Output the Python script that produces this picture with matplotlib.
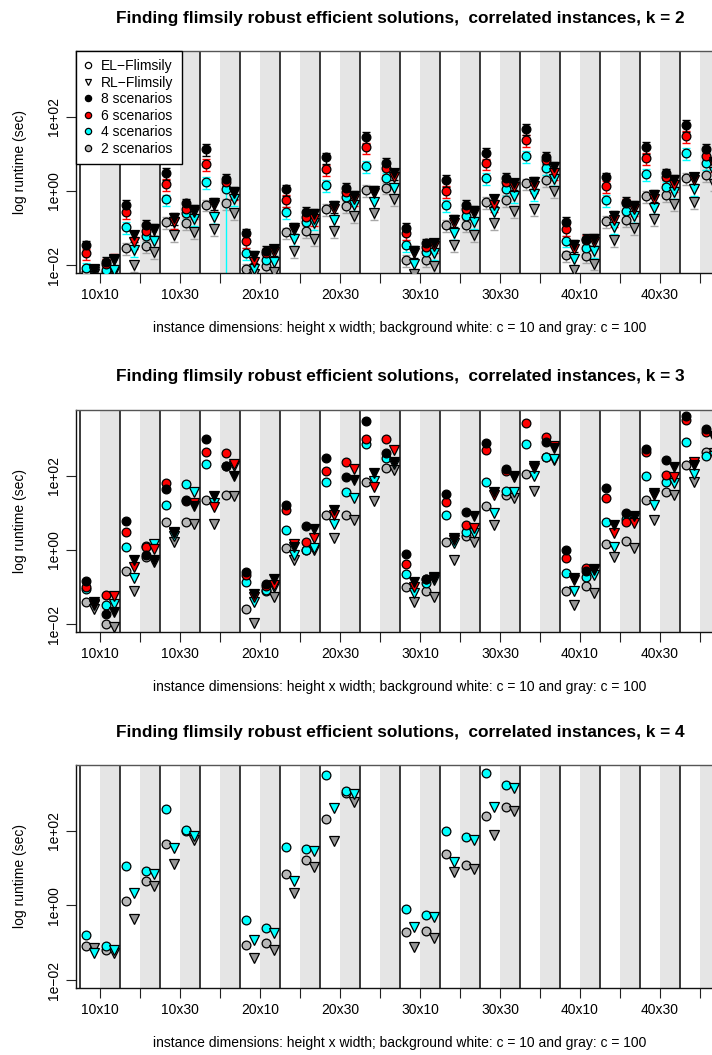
import numpy as np
import matplotlib
matplotlib.use("Agg")
import matplotlib.pyplot as plt
from matplotlib.lines import Line2D

plt.rcParams['font.family'] = ['Liberation Sans', 'DejaVu Sans']

nan = np.nan

# ---------------- categories / labels ----------------
blocks = ["10x10", "10x20", "10x30", "10x40", "20x10", "20x20", "20x30", "20x40",
          "30x10", "30x20", "30x30", "30x40", "40x10", "40x20", "40x30", "40x40"]
shown_labels = ["10x10", "10x30", "20x10", "20x30", "30x10", "30x30", "40x10", "40x30"]
ytick_values = [1e-2, 1e0, 1e2]
ytick_labels = ["1e\u221202", "1e+00", "1e+02"]
scenarios = [8, 6, 4, 2]
titles = ["Finding flimsily robust efficient solutions,  correlated instances, k = 2",
          "Finding flimsily robust efficient solutions,  correlated instances, k = 3",
          "Finding flimsily robust efficient solutions,  correlated instances, k = 4"]
xlabel_text = "instance dimensions: height x width; background white: c = 10 and gray: c = 100"
ylabel_text = "log runtime (sec)"

# ---------------- data: log10 runtime (sec) ----------------
# k = 2
k2_s8_el10 = [-1.47, -0.37, 0.49, 1.12, -1.15, 0.04, 0.90, 1.46, -1.00, 0.29, 1.03, 1.68, -0.84, 0.36, 1.19, 1.77]
k2_s8_rl10 = [-2.12, -1.20, -0.73, -0.32, -1.76, -0.99, -0.40, -0.01, -1.63, -0.79, -0.23, 0.24, -1.45, -0.67, -0.12, 0.36]
k2_s8_el100 = [-1.92, -0.93, -0.34, 0.33, -1.63, -0.57, 0.08, 0.76, -1.42, -0.39, 0.35, 0.92, -1.30, -0.30, 0.47, 1.12]
k2_s8_rl100 = [-1.87, -1.02, -0.52, -0.03, -1.58, -0.63, -0.14, 0.47, -1.42, -0.55, 0.20, 0.65, -1.29, -0.41, 0.29, 0.78]
k2_s6_el10 = [-1.69, -0.57, 0.18, 0.72, -1.36, -0.25, 0.58, 1.17, -1.15, 0.00, 0.74, 1.37, -1.04, 0.13, 0.88, 1.48]
k2_s6_rl10 = [-2.14, -1.38, -0.84, -0.39, -1.92, -1.06, -0.50, -0.07, -1.69, -0.88, -0.39, 0.13, -1.58, -0.79, -0.21, 0.29]
k2_s6_el100 = [-1.96, -1.08, -0.48, 0.24, -1.69, -0.70, -0.03, 0.62, -1.51, -0.50, 0.24, 0.83, -1.33, -0.34, 0.38, 0.94]
k2_s6_rl100 = [-1.83, -1.06, -0.57, -0.05, -1.65, -0.77, -0.21, 0.38, -1.49, -0.59, 0.11, 0.49, -1.38, -0.48, 0.15, 0.69]
k2_s4_el10 = [-2.08, -0.97, -0.23, 0.24, -1.67, -0.57, 0.15, 0.67, -1.47, -0.38, 0.35, 0.94, -1.34, -0.24, 0.45, 1.03]
k2_s4_rl10 = [-2.19, -1.60, -0.84, -0.70, -2.12, -1.30, -0.79, -0.31, -1.96, -1.13, -0.57, -0.09, -1.83, -0.97, -0.45, 0.04]
k2_s4_el100 = [-2.14, -1.22, -0.61, 0.04, -1.87, -0.84, -0.16, 0.35, -1.66, -0.67, 0.06, 0.62, -1.55, -0.55, 0.11, 0.74]
k2_s4_rl100 = [-2.14, -1.36, -0.77, -0.22, -1.92, -0.86, -0.38, 0.08, -1.69, -0.84, -0.14, 0.33, -1.62, -0.67, -0.03, 0.51]
k2_s2_el10 = [-2.19, -1.54, -0.84, -0.37, -2.10, -1.12, -0.48, 0.02, -1.87, -0.91, -0.30, 0.20, -1.74, -0.81, -0.13, 0.35]
k2_s2_rl10 = [-2.23, -2.01, -1.18, -1.03, -2.23, -1.63, -1.09, -0.61, -2.23, -1.45, -0.88, -0.49, -2.14, -1.33, -0.76, -0.31]
k2_s2_el100 = [-2.19, -1.49, -0.86, -0.34, -2.03, -1.08, -0.41, 0.09, -1.87, -0.93, -0.25, 0.29, -1.75, -0.79, -0.12, 0.42]
k2_s2_rl100 = [-2.19, -1.66, -1.11, -0.61, -2.19, -1.30, -0.67, -0.21, -2.03, -1.18, -0.54, -0.01, -1.96, -1.00, -0.36, 0.18]
# relative standard deviation of the k = 2 runtimes (error bars)
k2_rel_sd = 0.35
k2_rel_sd_s4_el100 = [0.35, 0.35, 0.35, 1.10, 0.35, 0.35, 0.35, 0.35, 0.35, 0.35, 0.35, 0.35, 0.35, 0.35, 0.35, 0.35]

# k = 3
k3_s8_el10 = [-0.83, 0.79, 1.64, 2.99, -0.60, 1.21, 2.47, 3.48, -0.12, 1.51, 2.88, nan, 0.00, 1.66, 2.72, 3.62]
k3_s8_rl10 = [-1.42, -0.27, 0.45, 1.44, -1.20, 0.09, 1.08, 2.07, -0.87, 0.33, 1.57, 2.25, -0.76, 0.66, 1.53, 2.29]
k3_s8_el100 = [-1.74, -0.15, 1.35, 2.27, -0.93, 0.63, 1.96, 2.61, -0.79, 1.01, 2.18, 2.92, -0.57, 0.99, 2.43, 3.26]
k3_s8_rl100 = [-1.69, -0.27, 1.19, 2.00, -0.78, 0.57, 1.89, 2.38, -0.72, 0.90, 1.96, 2.74, -0.51, 0.90, 2.23, 3.06]
k3_s6_el10 = [-0.99, 0.49, 1.80, 2.63, -0.67, 1.08, 2.14, 2.99, -0.38, 1.29, 2.68, 3.42, -0.21, 1.39, 2.65, 3.49]
k3_s6_rl10 = [-1.46, -0.45, 0.48, 1.15, -1.26, 0.15, 0.93, 1.69, -0.99, 0.27, 1.48, 2.20, -0.81, 0.45, 1.48, 2.36]
k3_s6_el100 = [-1.23, 0.09, 1.33, 2.61, -0.97, 0.22, 2.37, 2.99, -0.79, 0.67, 2.14, 3.04, -0.49, 0.75, 2.02, 3.19]
k3_s6_rl100 = [-1.24, 0.02, 1.26, 2.31, -0.94, 0.33, 2.18, 2.68, -0.76, 0.58, 2.00, 2.81, -0.54, 0.72, 1.96, 3.01]
k3_s4_el10 = [-1.06, 0.09, 1.20, 2.32, -0.87, 0.54, 1.84, 2.85, -0.65, 0.94, 1.84, 2.85, -0.63, 0.74, 2.00, 2.92]
k3_s4_rl10 = [-1.48, -0.75, 0.36, 1.26, -1.41, -0.13, 0.69, 1.86, -1.17, 0.18, 0.99, 2.00, -1.12, 0.09, 1.21, 2.05]
k3_s4_el100 = [-1.48, 0.11, 1.78, 2.25, -1.08, 0.00, 1.55, 2.47, -0.90, 0.48, 1.60, 2.50, -0.74, 0.84, 1.82, 2.54]
k3_s4_rl100 = [-1.47, 0.16, 1.57, 2.27, -1.01, 0.04, 1.39, 2.31, -0.81, 0.45, 1.55, 2.45, -0.67, 0.85, 1.80, 2.52]
k3_s2_el10 = [-1.41, -0.58, 0.74, 1.35, -1.60, 0.06, 0.94, 1.82, -1.00, 0.22, 1.17, 2.04, -1.10, 0.16, 1.35, 2.29]
k3_s2_rl10 = [-1.60, -1.10, 0.20, 0.70, -1.98, -0.27, 0.31, 1.33, -1.42, -0.27, 0.67, 1.60, -1.48, -0.18, 0.81, 1.84]
k3_s2_el100 = [-2.01, -0.20, 0.75, 1.48, -1.12, 0.00, 0.93, 2.20, -1.12, 0.36, 1.48, 2.50, -0.97, 0.24, 1.57, 2.65]
k3_s2_rl100 = [-2.09, -0.34, 0.70, 1.46, -1.26, 0.00, 0.81, 2.16, -1.26, 0.22, 1.39, 2.43, -1.17, 0.06, 1.48, 2.61]

# k = 4 (only 4 and 2 scenarios)
k4_s4_el10 = [-0.79, 1.05, 2.58, nan, -0.38, 1.57, 3.50, nan, -0.09, 2.00, 3.55, nan, nan, nan, nan, nan]
k4_s4_rl10 = [-1.28, 0.33, 1.53, nan, -0.92, 0.66, 2.61, nan, -0.58, 1.17, 2.65, nan, nan, nan, nan, nan]
k4_s4_el100 = [-1.10, 0.93, 2.02, nan, -0.61, 1.51, 3.08, nan, -0.25, 1.84, 3.23, nan, nan, nan, nan, nan]
k4_s4_rl100 = [-1.19, 0.84, 1.86, nan, -0.74, 1.46, 2.98, nan, -0.31, 1.75, 3.16, nan, nan, nan, nan, nan]
k4_s2_el10 = [-1.08, 0.13, 1.64, nan, -1.05, 0.84, 2.32, nan, -0.70, 1.37, 2.41, nan, nan, nan, nan, nan]
k4_s2_rl10 = [-1.14, -0.36, 1.12, nan, -1.42, 0.34, 1.73, nan, -1.12, 0.90, 1.89, nan, nan, nan, nan, nan]
k4_s2_el100 = [-1.19, 0.67, 2.00, nan, -1.01, 1.23, 3.03, nan, -0.69, 1.10, 2.65, nan, nan, nan, nan, nan]
k4_s2_rl100 = [-1.28, 0.52, 1.77, nan, -1.19, 1.03, 2.79, nan, -0.88, 0.99, 2.53, nan, nan, nan, nan, nan]

# ---------------- assemble ----------------
panel_data = {
    2: {8: (k2_s8_el10, k2_s8_rl10, k2_s8_el100, k2_s8_rl100),
        6: (k2_s6_el10, k2_s6_rl10, k2_s6_el100, k2_s6_rl100),
        4: (k2_s4_el10, k2_s4_rl10, k2_s4_el100, k2_s4_rl100),
        2: (k2_s2_el10, k2_s2_rl10, k2_s2_el100, k2_s2_rl100)},
    3: {8: (k3_s8_el10, k3_s8_rl10, k3_s8_el100, k3_s8_rl100),
        6: (k3_s6_el10, k3_s6_rl10, k3_s6_el100, k3_s6_rl100),
        4: (k3_s4_el10, k3_s4_rl10, k3_s4_el100, k3_s4_rl100),
        2: (k3_s2_el10, k3_s2_rl10, k3_s2_el100, k3_s2_rl100)},
    4: {4: (k4_s4_el10, k4_s4_rl10, k4_s4_el100, k4_s4_rl100),
        2: (k4_s2_el10, k4_s2_rl10, k4_s2_el100, k4_s2_rl100)},
}

fill_circle = {8: 'black', 6: '#FF0000', 4: '#00FFFF', 2: '#B8B8B8'}
fill_tri = {8: 'black', 6: '#FF0000', 4: '#00FFFF', 2: '#969696'}
err_col = {8: 'black', 6: '#FF0000', 4: '#00FFFF', 2: '#A8A8A8'}
offsets = [-0.35, -0.15, 0.15, 0.35]       # EL c10, RL c10, EL c100, RL c100
markers = ['o', 'v', 'o', 'v']

W, H = 712, 1055
fig = plt.figure(figsize=(W / 100, H / 100), dpi=100)

ax_left, ax_right = 76, 724
panel_px = [(2, 51, 273), (3, 410, 632), (4, 765, 988)]
x = np.arange(1, len(blocks) + 1)

for idx, (k, top, bot) in enumerate(panel_px):
    ax = fig.add_axes([ax_left / W, (H - bot) / H, (ax_right - ax_left) / W, (bot - top) / H])
    ax.set_xlim(0.4, 16.6)
    ax.set_yscale('log')
    ax.set_ylim(10 ** -2.216, 10 ** 3.772)
    for i in x:
        ax.axvspan(i, i + 0.5, color='#E5E5E5', lw=0, zorder=0)
    for b in np.arange(0.5, len(blocks) + 1, 1.0):
        ax.axvline(b, color='#1A1A1A', lw=1.2, zorder=1)

    data = panel_data[k]
    # error bars (k = 2 only)
    if k == 2:
        for s in [2, 4, 6, 8]:
            for j in range(4):
                v = 10 ** np.array(data[s][j])
                if s == 4 and j == 2:
                    rel = np.array(k2_rel_sd_s4_el100)
                else:
                    rel = np.full(len(v), k2_rel_sd)
                lo = v * (1 - rel)
                lo = np.where(lo <= 0, 1e-6, lo)
                hi = v * (1 + rel)
                ax.errorbar(x + offsets[j], v, yerr=[v - lo, hi - v], fmt='none',
                            ecolor=err_col[s], elinewidth=1.0, capsize=3.2,
                            capthick=1.0, zorder=2)
    # points
    for s in [2, 4, 6, 8]:
        if s not in data:
            continue
        for j in range(4):
            v = 10 ** np.array(data[s][j])
            if markers[j] == 'o':
                ax.plot(x + offsets[j], v, ls='none', marker='o', ms=6.3,
                        mfc=fill_circle[s], mec='black', mew=0.9, zorder=3)
            else:
                ax.plot(x + offsets[j], v, ls='none', marker='v', ms=6.8,
                        mfc=fill_tri[s], mec='black', mew=0.9, zorder=3)

    ax.set_xticks(x)
    ax.set_xticklabels([b if b in shown_labels else "" for b in blocks])
    ax.set_yticks(ytick_values)
    ax.set_yticklabels(ytick_labels)
    ax.minorticks_off()
    ax.tick_params(axis='both', direction='out', length=7, width=0.8, labelsize=10, color='#222222')
    ax.tick_params(axis='x', pad=4)
    ax.tick_params(axis='y', pad=4)
    for lab in ax.get_yticklabels():
        lab.set_rotation(90)
        lab.set_va('center')
        lab.set_ha('right')
    for sp in ['left', 'bottom', 'right']:
        ax.spines[sp].set_color('#111111')
        ax.spines[sp].set_linewidth(1.0)
    ax.spines['top'].set_color('#555555')
    ax.spines['top'].set_linewidth(1.0)

    cx = (ax_left + ax_right) / 2 / W
    fig.text(cx, 1 - (top - 33) / H, titles[idx], ha='center', va='center',
             fontsize=12.4, fontweight='bold')
    fig.text(cx, 1 - (bot + 55) / H, xlabel_text, ha='center', va='center', fontsize=10)
    fig.text(20 / W, 1 - ((top + bot) / 2) / H, ylabel_text, ha='center', va='center',
             rotation=90, fontsize=10)

    if k == 2:
        handles = [
            Line2D([], [], ls='none', marker='o', mfc='white', mec='black', ms=4.5, mew=0.9, label='EL\u2212Flimsily'),
            Line2D([], [], ls='none', marker='v', mfc='white', mec='black', ms=5.0, mew=0.9, label='RL\u2212Flimsily'),
        ]
        for s in scenarios:
            handles.append(Line2D([], [], ls='none', marker='o', mfc=fill_circle[s], mec='black',
                                  ms=4.5, mew=0.9, label=f'{s} scenarios'))
        leg = ax.legend(handles=handles, loc='upper left', bbox_to_anchor=(0, 1),
                        borderaxespad=0, frameon=True, fancybox=False, edgecolor='black',
                        framealpha=1, fontsize=10, handlelength=0.5, handletextpad=0.7,
                        labelspacing=0.18, borderpad=0.6)
        leg.get_frame().set_linewidth(1.0)
        leg.set_zorder(10)

fig.savefig('out.png', dpi=100)
